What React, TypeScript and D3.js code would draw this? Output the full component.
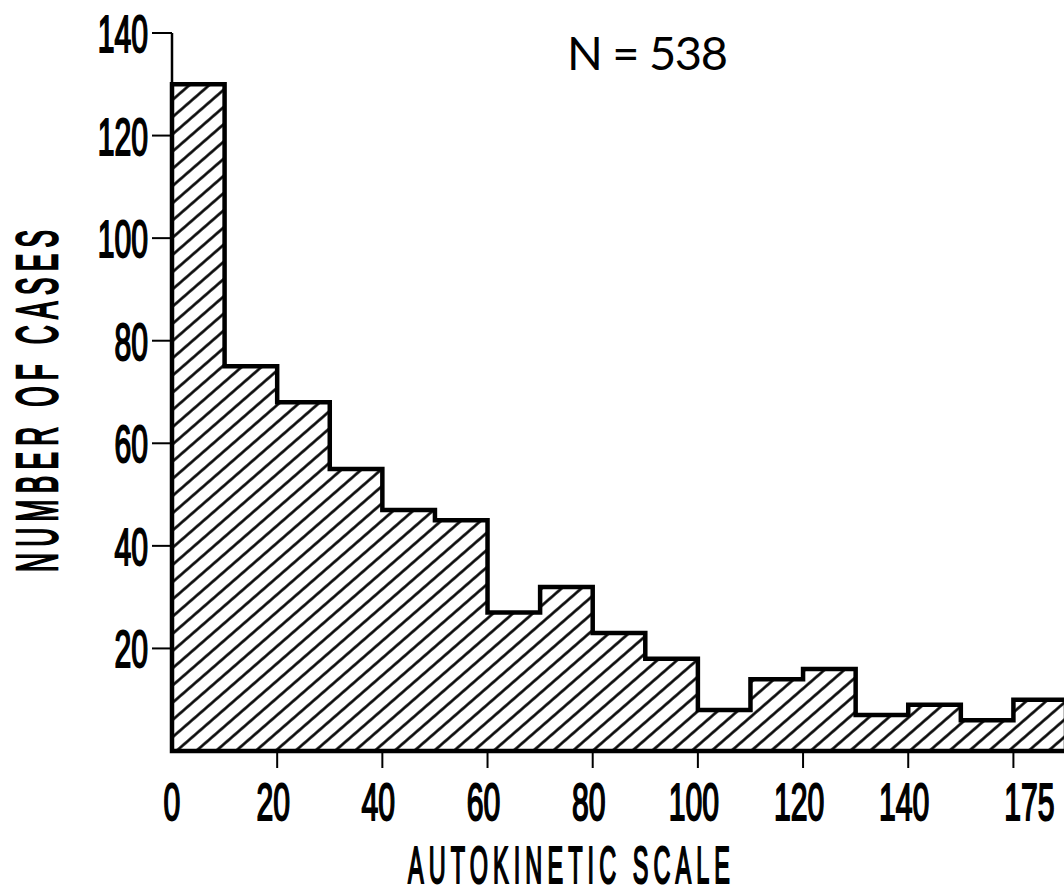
import React from "react";
import * as d3 from "d3";

const binStarts = [0, 10, 20, 30, 40, 50, 60, 70, 80, 90, 100, 110, 120, 130, 140, 150, 160];
const counts = [130, 75, 68, 55, 47, 45, 27, 32, 23, 18, 8, 14, 16, 7, 9, 6, 10];
const binWidth = 10;
const yTicks = [20, 40, 60, 80, 100, 120, 140];
const xTickValues = [0, 20, 40, 60, 80, 100, 120, 140, 160];
const xTickLabels = ["0", "20", "40", "60", "80", "100", "120", "140", "175"];
const title = "N = 538";
const xTitle = "AUTOKINETIC SCALE";
const yTitle = "NUMBER OF CASES";

const W = 1064;
const H = 893;

export default function App() {
  const x = d3.scaleLinear().domain([0, 170]).range([172, 1066]);
  const y = d3.scaleLinear().domain([0, 140]).range([751, 33]);

  const pts: [number, number][] = [[x(0), y(0)]];
  binStarts.forEach((b, i) => {
    pts.push([x(b), y(counts[i])]);
    pts.push([x(b + binWidth), y(counts[i])]);
  });
  const last = binStarts[binStarts.length - 1] + binWidth;
  pts.push([x(last), y(0)]);
  const outline = d3.line()(pts) + "Z";

  const labelFont = "'Liberation Sans', Arial, sans-serif";
  const sx = 0.58;
  const tsx = 0.46;

  return (
    <svg width={W} height={H} style={{ display: "block", position: "absolute", left: 0, top: 0, background: "#fff" }}>
      <defs>
        <pattern id="hatch" patternUnits="userSpaceOnUse" width={13} height={13} patternTransform="rotate(49)">
          <line x1={6.5} y1={-2} x2={6.5} y2={15} stroke="#000" strokeWidth={2.6} />
        </pattern>
      </defs>
      <rect x={0} y={0} width={W} height={H} fill="#fff" />
      <line x1={x(0)} y1={y(140)} x2={x(0)} y2={y(0)} stroke="#000" strokeWidth={2.5} />
      <path d={outline} fill="url(#hatch)" stroke="#000" strokeWidth={4.5} strokeLinejoin="miter" />
      {yTicks.map((t) => (
        <g key={"yt" + t}>
          <line x1={x(0) - 20} x2={x(0)} y1={y(t)} y2={y(t)} stroke="#000" strokeWidth={2} />
          <text
            transform={`translate(${x(0) - 24},${y(t) + 19}) scale(${sx},1)`}
            textAnchor="end"
            fontFamily={labelFont}
            fontSize={52}
            stroke="#000"
            strokeWidth={2}
            fill="#000"
          >
            {t}
          </text>
        </g>
      ))}
      {xTickValues.map((t, i) => (
        <g key={"xt" + t}>
          {t > 0 && <line x1={x(t)} x2={x(t)} y1={y(0)} y2={y(0) + 17} stroke="#000" strokeWidth={2} />}
          <text
            transform={`translate(${x(t) + (i === 0 ? 0 : i === xTickValues.length - 1 ? 16 : -4)},${820}) scale(${sx},1)`}
            textAnchor="middle"
            fontFamily={labelFont}
            fontSize={52}
            stroke="#000"
            strokeWidth={2}
            fill="#000"
          >
            {xTickLabels[i]}
          </text>
        </g>
      ))}
      <g transform={`translate(408,883) scale(${tsx},1)`}>
        <text
          x={0}
          y={0}
          textLength={322 / tsx}
          lengthAdjust="spacing"
          fontFamily={labelFont}
          fontSize={51}
          stroke="#000"
          strokeWidth={2.2}
          fill="#000"
        >
          {xTitle}
        </text>
      </g>
      <g transform={`translate(57,572) rotate(-90) scale(${tsx},1)`}>
        <text
          x={0}
          y={0}
          textLength={342 / tsx}
          lengthAdjust="spacing"
          fontFamily={labelFont}
          fontSize={57}
          stroke="#000"
          strokeWidth={2.6}
          fill="#000"
        >
          {yTitle}
        </text>
      </g>
      <text
        x={567}
        y={70}
        textLength={161}
        lengthAdjust="spacing"
        fontFamily="Lato, 'Open Sans', sans-serif"
        fontSize={47}
        fill="#000"
      >
        {title}
      </text>
    </svg>
  );
}
